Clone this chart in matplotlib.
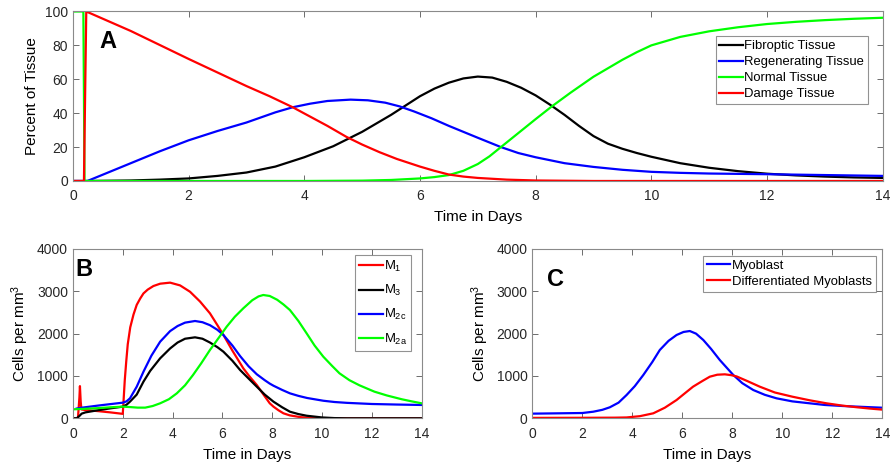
import numpy as np
import matplotlib.pyplot as plt

plt.rcParams['font.family'] = ['Liberation Sans', 'DejaVu Sans']
plt.rcParams['mathtext.fontset'] = 'custom'
plt.rcParams['mathtext.rm'] = 'Liberation Sans'
plt.rcParams['mathtext.it'] = 'Liberation Sans'

# ---- Panel A : percent of tissue ----
fib_t = [0, 0.25, 1, 1.5, 2, 2.5, 3, 3.5, 4, 4.5, 5, 5.5, 5.75, 6, 6.25, 6.5, 6.75, 7,
         7.25, 7.5, 7.75, 8, 8.25, 8.5, 8.75, 9, 9.25, 9.5, 9.75, 10, 10.5, 11, 11.5,
         12, 12.5, 13, 13.5, 14]
fib_v = [0, 0, 0.3, 0.8, 1.5, 3, 5, 8.5, 14, 20.5, 29, 39, 44.5, 50, 54.5, 58, 60.5, 61.6,
         61, 58.5, 55, 50.5, 45, 39, 32.5, 26.5, 22, 19, 16.5, 14.3, 10.5, 7.8, 5.8,
         4.3, 3.3, 2.6, 2.1, 1.8]

reg_t = [0, 0.25, 0.5, 1, 1.5, 2, 2.5, 3, 3.5, 3.8, 4.1, 4.4, 4.8, 5.1, 5.4, 5.65, 5.9,
         6.2, 6.5, 6.75, 7, 7.4, 7.7, 8, 8.5, 9, 9.5, 10, 10.5, 11, 12, 13, 14]
reg_v = [0, 0, 3.5, 10.5, 17.5, 24, 29.5, 34.5, 40.5, 43.5, 45.6, 47.2, 48, 47.6, 46.2,
         44, 41, 37, 32.5, 29, 25.5, 20, 16.5, 14, 10.5, 8.3, 6.6, 5.4, 4.8, 4.4, 4, 3.5, 3]

nor_t = [0, 0.18, 0.2, 1, 2, 3, 4, 5, 5.5, 6, 6.25, 6.5, 6.75, 7, 7.2, 7.4, 7.6, 7.8, 8,
         8.28, 8.6, 9, 9.25, 9.5, 9.75, 10, 10.5, 11, 11.5, 12, 12.5, 13, 13.5, 14]
nor_v = [100, 100, 0, 0, 0, 0, 0, 0.2, 0.6, 1.5, 2.3, 3.5, 6, 10, 14.5, 20, 25.5, 31, 36.5,
         44, 52, 61.5, 66.5, 71.5, 76, 80, 85, 88.3, 90.7, 92.6, 93.9, 94.9, 95.7, 96.3]

dam_t = [0, 0.19, 0.23, 1, 2, 3, 3.4, 3.8, 4.1, 4.4, 4.73, 5, 5.3, 5.6, 6, 6.25, 6.5,
         6.75, 7, 7.5, 8, 9, 14]
dam_v = [0, 0, 100, 88.5, 72, 56, 50, 43.5, 38, 32.5, 26, 21.5, 17, 13, 8.5, 6, 3.8,
         2.6, 1.8, 0.8, 0.3, 0, 0]

# ---- Panel B : macrophages ----
m1_t = [0, 0.2, 0.26, 0.28, 0.31, 0.34, 0.5, 1, 1.5, 2, 2.03, 2.08, 2.14, 2.2, 2.3, 2.43,
        2.56, 2.7, 2.83, 3, 3.23, 3.5, 3.9, 4.3, 4.7, 5.1, 5.5, 5.8, 6.04, 6.4, 6.84, 7.1,
        7.38, 7.65, 7.9, 8.05, 8.25, 8.45, 8.7, 9.1, 9.5, 10, 14]
m1_v = [0, 0, 500, 760, 400, 210, 195, 170, 140, 105, 400, 900, 1350, 1750, 2150, 2450,
        2680, 2830, 2950, 3040, 3125, 3180, 3205, 3140, 2990, 2760, 2480, 2200, 1970, 1600,
        1180, 980, 787, 560, 355, 275, 190, 118, 70, 30, 10, 0, 0]

m3_t = [0, 0.15, 0.25, 0.35, 0.5, 1, 1.5, 2, 2.15, 2.3, 2.56, 2.83, 3.1, 3.5, 3.9, 4.2,
        4.5, 4.9, 5.2, 5.5, 5.8, 6.04, 6.4, 6.71, 7.05, 7.38, 7.7, 8.05, 8.4, 8.71, 9.05,
        9.38, 10, 10.5, 11, 14]
m3_v = [0, 0, 50, 110, 140, 190, 235, 275, 320, 400, 560, 865, 1120, 1417, 1650, 1790,
        1880, 1913, 1880, 1790, 1680, 1574, 1360, 1141, 940, 747, 560, 393, 260, 156, 100,
        61, 20, 5, 0, 0]

m2c_t = [0.15, 0.35, 1, 1.5, 2, 2.15, 2.29, 2.56, 2.83, 3.15, 3.5, 3.9, 4.2, 4.5, 4.9,
         5.2, 5.5, 5.8, 6.04, 6.4, 6.71, 7.05, 7.38, 7.7, 7.9, 8.05, 8.4, 8.71, 9.05, 9.4,
         10.05, 10.5, 11, 12, 13, 14]
m2c_v = [230, 250, 300, 335, 369, 400, 472, 747, 1100, 1480, 1810, 2060, 2180, 2260, 2299,
         2270, 2200, 2090, 1968, 1720, 1470, 1230, 1040, 900, 820, 770, 670, 590, 530, 480,
         415, 385, 365, 338, 325, 315]

m2a_t = [0, 0.5, 1, 1.5, 2, 2.3, 2.6, 2.9, 3.2, 3.5, 3.85, 4.17, 4.5, 4.82, 5.15, 5.5,
         5.85, 6.17, 6.5, 6.84, 7.2, 7.45, 7.64, 7.9, 8.2, 8.45, 8.71, 9.05, 9.38, 9.7,
         10.05, 10.4, 10.7, 11.1, 11.5, 12.1, 12.6, 13.2, 13.6, 14]
m2a_v = [212, 225, 240, 260, 275, 265, 252, 252, 290, 354, 450, 590, 780, 1023, 1300, 1614,
         1900, 2164, 2400, 2599, 2790, 2880, 2913, 2890, 2800, 2690, 2558, 2300, 2008, 1720,
         1456, 1240, 1063, 900, 780, 630, 540, 450, 400, 354]

# ---- Panel C : myoblasts ----
myo_t = [0, 1.1, 2, 2.44, 2.8, 3.1, 3.45, 3.77, 4.1, 4.44, 4.8, 5.1, 5.45, 5.77, 6.05, 6.3,
         6.55, 6.84, 7.15, 7.5, 7.8, 8.04, 8.4, 8.84, 9.3, 9.77, 10.4, 11.1, 11.7, 12.4,
         13.2, 14]
myo_v = [110, 118, 125, 156, 200, 260, 370, 550, 760, 1023, 1330, 1614, 1830, 1968, 2040,
         2062, 2000, 1850, 1640, 1377, 1180, 1023, 830, 668, 555, 472, 400, 354, 315, 291,
         270, 250]

dif_t = [0, 2, 3.3, 3.77, 4.3, 4.84, 5.3, 5.77, 6.1, 6.43, 6.8, 7.1, 7.4, 7.7, 7.95, 8.17,
         8.6, 9.1, 9.7, 10.4, 11.1, 11.77, 12.4, 13, 13.5, 14]
dif_v = [10, 12, 15, 20, 50, 118, 250, 432, 590, 747, 880, 983, 1030, 1039, 1020, 990, 880,
         747, 610, 511, 425, 354, 300, 260, 230, 205]

days = [0, 2, 4, 6, 8, 10, 12, 14]

fig = plt.figure(figsize=(8.93, 4.69), dpi=100)
axA = fig.add_axes([0.0817, 0.6141, 0.9067, 0.3614])
axB = fig.add_axes([0.0817, 0.1081, 0.3905, 0.361])
axC = fig.add_axes([0.5961, 0.1081, 0.3919, 0.361])

lw = 1.6
axA.plot(fib_t, fib_v, color='k', lw=lw, label='Fibroptic Tissue')
axA.plot(reg_t, reg_v, color='#0000ff', lw=lw, label='Regenerating Tissue')
axA.plot(nor_t, nor_v, color='#00ff00', lw=lw, label='Normal Tissue')
axA.plot(dam_t, dam_v, color='#ff0000', lw=lw, label='Damage Tissue')
axA.set_ylim(0, 100)
axA.set_yticks([0, 20, 40, 60, 80, 100])
axA.set_ylabel('Percent of Tissue', fontsize=11)

axB.plot(m1_t, m1_v, color='#ff0000', lw=lw, label='M$_1$')
axB.plot(m3_t, m3_v, color='k', lw=lw, label='M$_3$')
axB.plot(m2c_t, m2c_v, color='#0000ff', lw=lw, label='M$_{2c}$')
axB.plot(m2a_t, m2a_v, color='#00ff00', lw=lw, label='M$_{2a}$')

axC.plot(myo_t, myo_v, color='#0000ff', lw=lw, label='Myoblast')
axC.plot(dif_t, dif_v, color='#ff0000', lw=lw, label='Differentiated Myoblasts')

for ax in (axB, axC):
    ax.set_ylim(0, 4000)
    ax.set_yticks([0, 1000, 2000, 3000, 4000])
    ax.set_ylabel('Cells per mm$^3$', fontsize=11)

for ax in (axA, axB, axC):
    ax.set_xlim(0, 14)
    ax.set_xticks(days)
    ax.set_xlabel('Time in Days', fontsize=11, labelpad=5)
    ax.tick_params(direction='in', top=True, right=True, length=4, width=0.6,
                   color='#555555', labelsize=10, labelcolor='#262626')
    ax.tick_params(axis='x', pad=6)
    for s in ax.spines.values():
        s.set_color('#8a8a8a')
        s.set_linewidth(0.8)

leg_kw = dict(fontsize=9.4, frameon=True, fancybox=False, borderaxespad=0,
              handlelength=1.8, handletextpad=0.1, borderpad=0.3)
lA = axA.legend(loc='upper right', bbox_to_anchor=(0.982, 0.855), labelspacing=0.3, **leg_kw)
lB = axB.legend(loc='upper right', bbox_to_anchor=(0.969, 0.965), labelspacing=0.7, **leg_kw)
lC = axC.legend(loc='upper right', bbox_to_anchor=(0.981, 0.959), labelspacing=0.3, **leg_kw)
for lg in (lA, lB, lC):
    lg.get_frame().set_edgecolor('#777777')
    lg.get_frame().set_linewidth(0.8)

axA.text(0.033, 0.82, 'A', transform=axA.transAxes, fontsize=17, fontweight='bold', va='center')
axB.text(0.008, 0.879, 'B', transform=axB.transAxes, fontsize=17, fontweight='bold', va='center')
axC.text(0.041, 0.817, 'C', transform=axC.transAxes, fontsize=17, fontweight='bold', va='center')

fig.savefig('out.png', dpi=100)
